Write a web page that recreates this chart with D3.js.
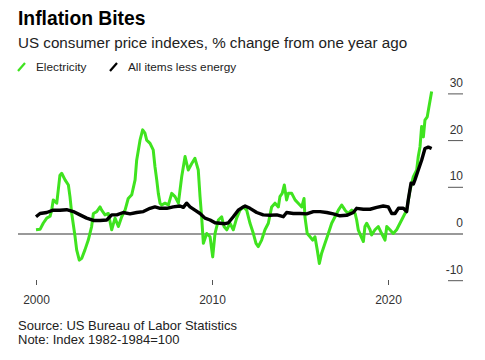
<!DOCTYPE html>
<html><head><meta charset="utf-8">
<script src="https://cdn.jsdelivr.net/npm/d3@7"></script>
<style>body{margin:0;background:#fff;}svg{display:block;font-family:"Liberation Sans",Arial,sans-serif;}</style>
</head><body><svg id="c" width="485" height="360"></svg>
<script>
const electricityYears = [2000.0,2000.23,2000.41,2000.61,2000.80,2000.89,2000.98,2001.18,2001.36,2001.46,2001.65,2001.84,2001.93,2002.03,2002.22,2002.31,2002.46,2002.60,2002.78,2002.97,2003.16,2003.26,2003.45,2003.64,2003.73,2003.92,2004.11,2004.30,2004.49,2004.68,2004.87,2005.06,2005.24,2005.44,2005.63,2005.72,2005.91,2006.06,2006.19,2006.29,2006.48,2006.66,2006.76,2006.86,2006.95,2007.05,2007.14,2007.33,2007.52,2007.71,2007.90,2008.09,2008.28,2008.47,2008.65,2008.85,2009.03,2009.22,2009.32,2009.41,2009.51,2009.70,2009.89,2010.04,2010.17,2010.36,2010.55,2010.68,2010.84,2011.02,2011.21,2011.40,2011.59,2011.78,2011.97,2012.16,2012.35,2012.50,2012.63,2012.82,2013.01,2013.20,2013.39,2013.58,2013.77,2013.86,2013.99,2014.11,2014.24,2014.34,2014.53,2014.72,2014.90,2015.10,2015.23,2015.28,2015.41,2015.57,2015.72,2015.85,2015.98,2016.10,2016.23,2016.42,2016.61,2016.80,2016.99,2017.18,2017.37,2017.56,2017.74,2017.94,2018.13,2018.22,2018.31,2018.51,2018.60,2018.69,2018.79,2018.98,2019.07,2019.26,2019.45,2019.64,2019.83,2019.93,2020.11,2020.30,2020.49,2020.68,2020.87,2021.06,2021.25,2021.44,2021.63,2021.72,2021.82,2021.91,2022.01,2022.10,2022.23,2022.33,2022.48];
const electricityValues = [0.9,1.0,2.3,3.4,3.8,5.1,7.3,6.6,12.6,13.0,11.6,10.5,8.0,4.4,-0.6,-3.4,-5.6,-5.2,-3.4,-1.3,1.6,4.4,4.8,5.8,5.1,4.1,4.4,0.9,3.4,1.6,3.7,5.1,7.6,8.4,11.6,15.8,20.1,22.3,21.6,20.1,19.4,18.0,14.4,11.6,8.7,6.6,6.2,6.6,6.2,8.7,8.0,6.6,12.3,16.6,13.7,15.1,16.2,13.7,8.0,3.7,-2.0,0.1,-0.6,-4.9,0.1,3.0,3.7,1.6,0.9,2.3,0.9,3.4,5.1,5.8,5.1,2.3,0.1,-2.0,-2.7,-1.3,0.9,2.3,5.8,6.6,5.8,8.0,8.7,10.5,7.3,8.7,8.7,7.3,6.6,5.8,7.6,3.7,0.1,-0.6,-1.3,-0.6,-3.4,-6.3,-4.1,-2.0,0.1,2.3,3.7,5.1,6.2,5.1,4.4,5.1,4.4,3.0,0.9,-0.9,-1.6,1.6,2.3,0.9,-0.2,0.9,1.6,0.1,-1.3,1.6,0.9,0.1,0.9,2.3,3.7,5.1,9.4,12.3,13.7,16.6,18.7,23.0,20.8,24.4,25.1,27.3,30.5];
const coreYears = [2000.0,2000.23,2000.61,2000.98,2001.36,2001.74,2002.12,2002.50,2002.88,2003.26,2003.64,2004.02,2004.30,2004.59,2004.96,2005.34,2005.72,2006.10,2006.48,2006.76,2007.05,2007.43,2007.80,2008.18,2008.37,2008.56,2008.75,2009.03,2009.32,2009.60,2009.89,2010.17,2010.45,2010.74,2010.93,2011.21,2011.49,2011.78,2011.88,2012.16,2012.54,2012.91,2013.30,2013.68,2014.05,2014.24,2014.62,2015.00,2015.38,2015.76,2016.14,2016.52,2016.89,2017.27,2017.65,2018.03,2018.22,2018.60,2018.98,2019.36,2019.73,2020.02,2020.21,2020.40,2020.59,2020.87,2021.06,2021.15,2021.31,2021.44,2021.53,2021.72,2021.91,2022.10,2022.29,2022.48];
const coreValues = [3.7,4.4,4.6,5.1,5.1,5.2,4.8,4.1,3.4,2.9,2.9,3.0,4.1,4.1,4.6,4.3,4.6,4.8,5.5,5.8,5.5,5.5,5.8,6.0,5.7,6.6,5.8,5.1,4.4,3.4,3.0,2.4,2.3,2.2,2.4,3.7,5.1,5.8,6.0,5.5,4.6,4.1,4.0,4.1,3.7,4.6,4.4,4.4,4.3,4.8,4.8,4.6,4.3,3.9,4.0,4.6,5.5,5.3,5.3,5.7,6.0,5.8,4.4,4.4,5.5,5.5,4.8,7.3,10.9,10.7,11.6,13.7,15.8,18.3,18.6,18.3];
const xTickYears = [2000, 2010, 2020];
const yTicks = [-10, 0, 10, 20, 30];
const seriesNames = ["Electricity", "All items less energy"];
const seriesColors = ["#3fe31f", "#000000"];

const svg = d3.select("#c");
const x = d3.scaleLinear().domain([2000, 2022.5]).range([36, 432]);
const y = d3.scaleLinear().domain([-10, 30]).range([280.7, 93.9]);

// titles
svg.append("text").attr("x", 18).attr("y", 25).attr("font-size", 19.3).attr("font-weight", "bold").attr("fill", "#000").text("Inflation Bites");
svg.append("text").attr("x", 18).attr("y", 47.5).attr("font-size", 15.2).attr("fill", "#222").text("US consumer price indexes, % change from one year ago");

// legend
const legX = [18, 110];
seriesNames.forEach((n, i) => {
  svg.append("line").attr("x1", legX[i]).attr("y1", 71).attr("x2", legX[i] + 7).attr("y2", 63)
    .attr("stroke", seriesColors[i]).attr("stroke-width", 2.2);
  svg.append("text").attr("x", legX[i] + 18).attr("y", 70.5).attr("font-size", 11.8).attr("fill", "#222").text(n);
});

// y axis (right)
svg.selectAll("line.yt").data(yTicks.filter(d => d !== 0)).enter().append("line")
  .attr("x1", 448).attr("x2", 463).attr("y1", d => y(d)).attr("y2", d => y(d))
  .attr("stroke", "#555").attr("stroke-width", 1);
svg.selectAll("text.yl").data(yTicks).enter().append("text")
  .attr("x", 463).attr("y", d => y(d) - 7).attr("text-anchor", "end")
  .attr("font-size", 12).attr("fill", "#333").text(d => d);

// zero line
svg.append("line").attr("x1", 18).attr("x2", 463).attr("y1", y(0)).attr("y2", y(0))
  .attr("stroke", "#777").attr("stroke-width", 1.3);

// x axis
const xAxis = d3.axisBottom(x).tickValues(xTickYears).tickSize(5).tickFormat(d3.format("d"));
const gx = svg.append("g").attr("transform", "translate(0,280)").call(xAxis);
gx.select(".domain").remove();
gx.selectAll(".tick line").attr("stroke", "#555");
gx.selectAll(".tick text").attr("font-size", 12).attr("fill", "#333").attr("dy", 0).attr("y", 24)
  .attr("font-family", "Liberation Sans, Arial, sans-serif");

// lines
const line = d3.line().x(d => x(d[0])).y(d => y(d[1])).curve(d3.curveLinear);
const elec = electricityYears.map((t, i) => [t, electricityValues[i]]);
const core = coreYears.map((t, i) => [t, coreValues[i]]);
svg.append("path").datum(elec).attr("d", line).attr("fill", "none")
  .attr("stroke", seriesColors[0]).attr("stroke-width", 3).attr("stroke-linejoin", "round");
svg.append("path").datum(core).attr("d", line).attr("fill", "none")
  .attr("stroke", seriesColors[1]).attr("stroke-width", 3.4).attr("stroke-linejoin", "round");

// footer
svg.append("text").attr("x", 18).attr("y", 330).attr("font-size", 13).attr("fill", "#222").text("Source: US Bureau of Labor Statistics");
svg.append("text").attr("x", 18).attr("y", 344).attr("font-size", 13).attr("fill", "#222").text("Note: Index 1982-1984=100");
</script></body></html>
